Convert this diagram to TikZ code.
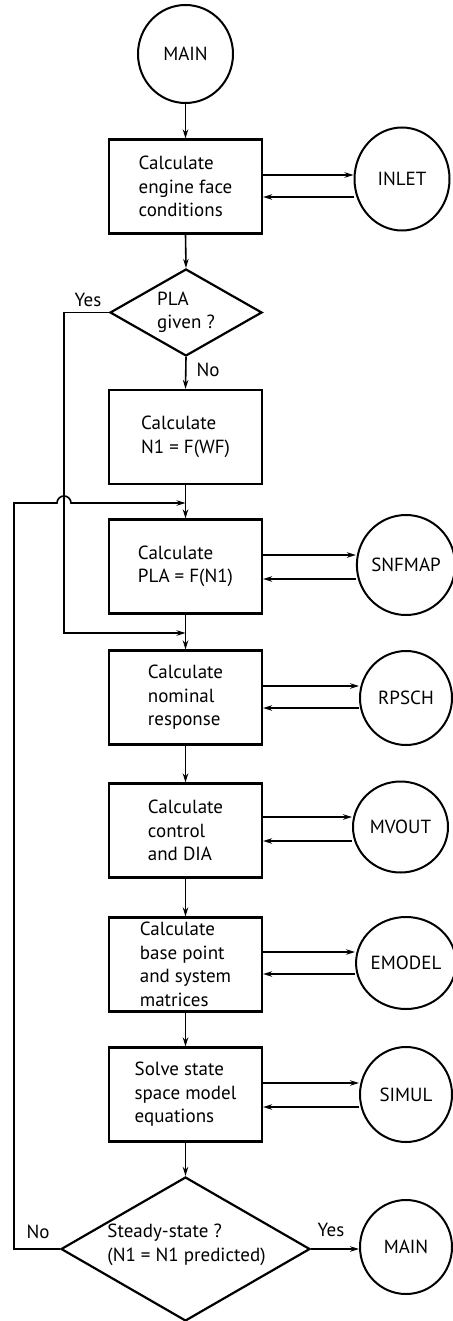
\documentclass[tikz,border=0pt]{standalone}
\usepackage{fontspec}
\setmainfont{PT Sans}
\usetikzlibrary{shapes.geometric,arrows.meta}
\begin{document}
\begin{tikzpicture}[x=1pt,y=1pt,
  txt/.style={font=\fontsize{19}{23.5}\selectfont},
  box/.style={draw, line width=2.2pt, rectangle, minimum width=153pt, minimum height=94pt, inner sep=0pt, align=left, txt},
  sub/.style={draw, line width=2pt, ellipse, inner sep=0pt, txt},
  dia/.style={draw, line width=2.2pt, diamond, inner sep=0pt},
  arr/.style={line width=1.6pt, -{Stealth[length=9pt,width=5.5pt]}},
  lab/.style={txt, inner sep=0pt, align=left}
]
\useasboundingbox (0,0) rectangle (452,-1321);

% main column
\node[sub, minimum width=95pt, minimum height=98pt] (main1) at (185.5,-54) {MAIN};
\node[box] (b1) at (185.5,-186.5) {Calculate\\engine face\\conditions};
\node[dia, minimum width=152pt, minimum height=87pt] (d1) at (186,-312.5) {};
\node[lab] (d1t) at (186,-312.5) {PLA\\given ?};
\node[box] (b2) at (185.5,-437) {Calculate\\N1 = F(WF)};
\node[box] (b3) at (185.5,-566.5) {Calculate\\PLA = F(N1)};
\node[box] (b4) at (185.5,-697.5) {Calculate\\nominal\\response};
\node[box] (b5) at (185.5,-830.5) {Calculate\\control\\and DIA};
\node[box] (b6) at (185.5,-964.5) {Calculate\\base point\\and system\\matrices};
\node[box] (b7) at (185.5,-1094.5) {Solve state\\space model\\equations};
\node[dia, minimum width=249pt, minimum height=144pt] (d2) at (185.5,-1249) {};
\node[lab] (d2t) at (186.5,-1245) {Steady-state ?\\(N1 = N1 predicted)};

% subroutines
\node[sub, minimum width=95pt, minimum height=103pt] (inlet) at (402,-179) {INLET};
\node[sub, minimum width=92pt, minimum height=100pt] (snfmap) at (406,-565) {SNFMAP};
\node[sub, minimum width=92pt, minimum height=94pt] (rpsch) at (406,-698) {RPSCH};
\node[sub, minimum width=95pt, minimum height=91pt] (mvout) at (400.5,-827) {MVOUT};
\node[sub, minimum width=92pt, minimum height=92pt] (emodel) at (406,-963) {EMODEL};
\node[sub, minimum width=92pt, minimum height=95pt] (simul) at (406,-1094.5) {SIMUL};
\node[sub, minimum width=92pt, minimum height=94pt] (main2) at (406,-1247) {MAIN};

% labels
\node[lab] (yes1) at (88,-300) {Yes};
\node[lab] (no1) at (208,-370) {No};
\node[lab] (no2) at (38,-1232) {No};
\node[lab] (yes2) at (331,-1230) {Yes};

% junction points
\coordinate (j1) at (185.5,-503);
\coordinate (j2) at (185.5,-633);

% vertical flow
\draw[arr] (main1.south) -- (b1.north);
\draw[arr] (b1.south) -- (d1.north);
\draw[arr] (d1.south) -- (b2.north);
\draw[arr] (b2.south) -- (b3.north);
\draw[arr] (b3.south) -- (b4.north);
\draw[arr] (b4.south) -- (b5.north);
\draw[arr] (b5.south) -- (b6.north);
\draw[arr] (b6.south) -- (b7.north);
\draw[arr] (b7.south) -- (d2.north);
\draw[arr] (d2.east) -- (main2.west |- d2.east);

% Yes branch of PLA given?
\draw[arr] (d1.west) -- (64,-312.5) -- (64,-633) -- (j2);

% No loop of steady-state
\draw[arr] (d2.west) -- (14,-1249) -- (14,-503) -- (57,-503)
  arc[start angle=180, end angle=0, radius=7] -- (j1);

% subroutine calls
\draw[arr] (b1.east |- 0,-175) -- (inlet.west |- 0,-175);
\draw[arr] (inlet.west |- 0,-197) -- (b1.east |- 0,-197);
\draw[arr] (b3.east |- 0,-555) -- (snfmap.west |- 0,-555);
\draw[arr] (snfmap.west |- 0,-579) -- (b3.east |- 0,-579);
\draw[arr] (b4.east |- 0,-686) -- (rpsch.west |- 0,-686);
\draw[arr] (rpsch.west |- 0,-708) -- (b4.east |- 0,-708);
\draw[arr] (b5.east |- 0,-817) -- (mvout.west |- 0,-817);
\draw[arr] (mvout.west |- 0,-841) -- (b5.east |- 0,-841);
\draw[arr] (b6.east |- 0,-952) -- (emodel.west |- 0,-952);
\draw[arr] (emodel.west |- 0,-974) -- (b6.east |- 0,-974);
\draw[arr] (b7.east |- 0,-1083) -- (simul.west |- 0,-1083);
\draw[arr] (simul.west |- 0,-1107) -- (b7.east |- 0,-1107);
\end{tikzpicture}
\end{document}
